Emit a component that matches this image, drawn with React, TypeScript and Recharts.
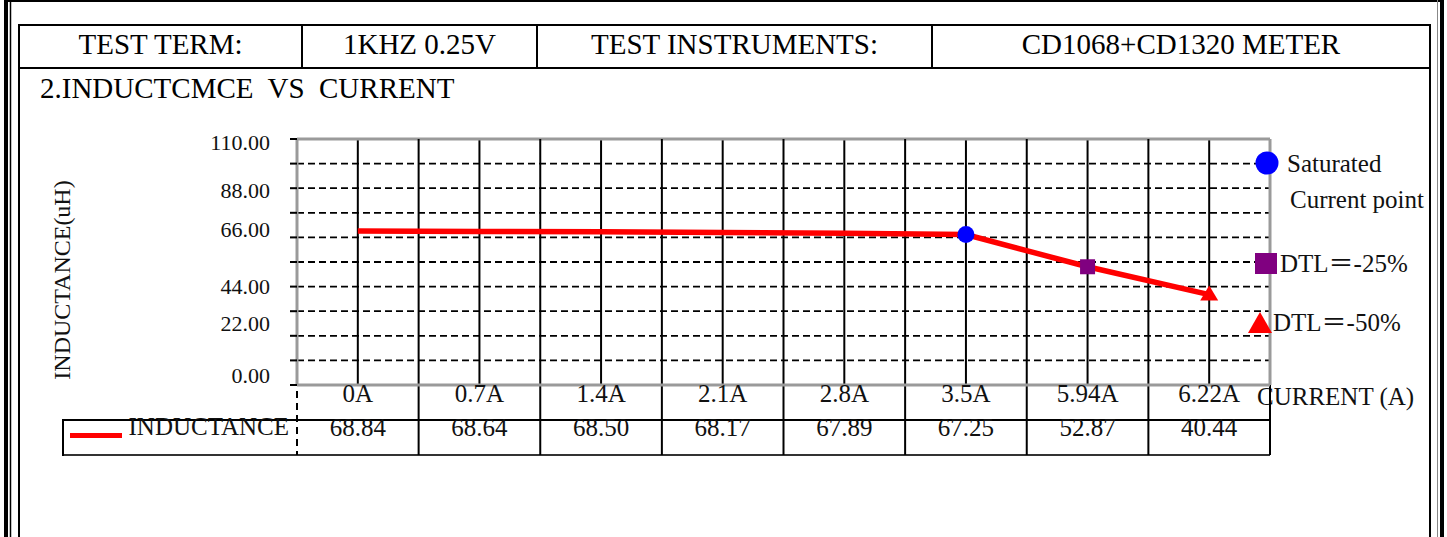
import { CartesianGrid, Line, LineChart, ReferenceLine, XAxis, YAxis } from "recharts"

const currents = ["0A", "0.7A", "1.4A", "2.1A", "2.8A", "3.5A", "5.94A", "6.22A"]
const inductance = [68.84, 68.64, 68.5, 68.17, 67.89, 67.25, 52.87, 40.44]
const markers = ["", "", "", "", "", "circle", "square", "triangle"]
const yTicks = [0, 11, 22, 33, 44, 55, 66, 77, 88, 99, 110]
const headerCells = ["TEST TERM:", "1KHZ 0.25V", "TEST INSTRUMENTS:", "CD1068+CD1320 METER"]

const data = currents.map((current, i) => ({ current, inductance: inductance[i] }))

const W = 1447
const H = 537
const FONT = '"Liberation Serif", "Noto Sans CJK TC", serif'
const INK = "#111"
const FRAME_GREY = "#9a9a9a"
const headerEdges = [19, 302, 537, 932, 1430]

// the scanned y labels sit a little off their gridlines
const labelNudge: Record<number, number> = { 0: -10, 22: -13, 44: -1, 66: -8, 88: 2, 110: 3 }

function InductanceTick(props: any) {
  const { x, y, payload } = props
  const v = payload.value as number
  if (v % 22 !== 0) return <g />
  return (
    <text x={x} y={y + (labelNudge[v] ?? 0)} dy={8} textAnchor="end" fontSize={22} fill={INK} fontFamily={FONT}>
      {v.toFixed(2)}
    </text>
  )
}

function CurrentTick(props: any) {
  const { x, y, payload } = props
  const value = inductance[payload.index]
  return (
    <g>
      <text x={x} y={y} dy={17} textAnchor="middle" fontSize={25} fill={INK} fontFamily={FONT}>
        {payload.value}
      </text>
      <text x={x} y={y} dy={51} textAnchor="middle" fontSize={25} fill={INK} fontFamily={FONT}>
        {value.toFixed(2)}
      </text>
    </g>
  )
}

function MarkerDot(props: any) {
  const { cx, cy, index } = props
  const kind = markers[index]
  if (kind === "circle") return <circle key={index} cx={cx} cy={cy} r={8.5} fill="#0000FF" />
  if (kind === "square") return <rect key={index} x={cx - 7.5} y={cy - 7.5} width={15} height={15} fill="#800080" />
  if (kind === "triangle")
    return <polygon key={index} points={`${cx},${cy - 9} ${cx + 9},${cy + 6} ${cx - 9},${cy + 6}`} fill="#FF0000" />
  return <g key={index} />
}

// column rules run from the plot top down through the data table
function columnRule(kind: "axis" | "inner" | "edge") {
  return (p: any) => {
    const top = Math.min(p.y1, p.y2)
    const bottom = Math.max(p.y1, p.y2)
    if (kind === "axis")
      return (
        <line x1={p.x1} x2={p.x1} y1={top} y2={bottom + 70} stroke="#000" strokeWidth={2} strokeDasharray="7 5" />
      )
    if (kind === "edge")
      return (
        <g>
          <line x1={p.x1} x2={p.x1} y1={top} y2={bottom} stroke={FRAME_GREY} strokeWidth={3} />
          <line x1={p.x1} x2={p.x1} y1={bottom} y2={bottom + 70} stroke="#000" strokeWidth={2} />
        </g>
      )
    return <line x1={p.x1} x2={p.x1} y1={top} y2={bottom + 70} stroke="#000" strokeWidth={2} />
  }
}

function Frame() {
  return (
    <svg width={W} height={H} style={{ position: "absolute", left: 0, top: 0 }} fontFamily={FONT}>
      <rect x={0} y={0} width={W} height={H} fill="#fff" />
      {/* page border */}
      <rect x={4} y={0} width={4} height={H} fill="#000" />
      <line x1={10.5} x2={10.5} y1={0} y2={H} stroke="#000" strokeWidth={1.5} />
      <line x1={8} x2={1444} y1={1} y2={1} stroke="#000" strokeWidth={2} />
      <line x1={1437.5} x2={1437.5} y1={0} y2={H} stroke="#888" strokeWidth={1} />
      <rect x={1440} y={0} width={4} height={H} fill="#000" />

      {/* report table */}
      <line x1={19} x2={19} y1={24} y2={H} stroke="#000" strokeWidth={2} />
      <line x1={1430} x2={1430} y1={24} y2={H} stroke="#000" strokeWidth={2} />
      <line x1={18} x2={1431} y1={25} y2={25} stroke="#000" strokeWidth={2} />
      <line x1={18} x2={1431} y1={68} y2={68} stroke="#000" strokeWidth={2} />
      {headerEdges.slice(1, -1).map((x) => (
        <line key={x} x1={x} x2={x} y1={25} y2={68} stroke="#000" strokeWidth={2} />
      ))}
      {headerCells.map((t, i) => (
        <text key={t} x={(headerEdges[i] + headerEdges[i + 1]) / 2} y={54} textAnchor="middle" fontSize={29} fill="#000">
          {t}
        </text>
      ))}
      <text x={40} y={98} fontSize={29} fill="#000" style={{ whiteSpace: "pre" }}>
        {"2.INDUCTCMCE  VS  CURRENT"}
      </text>

      {/* axis titles */}
      <text x={70} y={280} transform="rotate(-90 70 280)" textAnchor="middle" fontSize={24} fill={INK}>
        INDUCTANCE(uH)
      </text>
      <text x={1257} y={405} fontSize={25} fill={INK}>
        CURRENT (A)
      </text>

      {/* data table outline and key */}
      <line x1={63} x2={1270} y1={420} y2={420} stroke="#000" strokeWidth={2} />
      <line x1={63} x2={1270} y1={455} y2={455} stroke="#333" strokeWidth={2} />
      <line x1={63} x2={63} y1={419} y2={456} stroke="#000" strokeWidth={2} />
      <rect x={70} y={433} width={52} height={5} fill="#FF0000" />
      <text x={289} y={435} textAnchor="end" fontSize={25} fill={INK}>
        INDUCTANCE
      </text>

      {/* marker legend text */}
      <text x={1287} y={172} fontSize={25} fill={INK}>
        Saturated
      </text>
      <text x={1290} y={208} fontSize={25} fill={INK}>
        Current point
      </text>
      <text x={1280} y={272} fontSize={25} fill={INK}>
        DTL＝-25%
      </text>
      <text x={1273} y={331} fontSize={25} fill={INK}>
        DTL＝-50%
      </text>
    </svg>
  )
}

// legend symbols sit on top of the plot's right edge
function LegendSymbols() {
  return (
    <svg width={W} height={H} style={{ position: "absolute", left: 0, top: 0, pointerEvents: "none" }}>
      <circle cx={1267} cy={163} r={11.5} fill="#0000FF" />
      <rect x={1255} y={253} width={22} height={21} fill="#800080" />
      <polygon points="1260,312 1272,333 1248,333" fill="#FF0000" />
    </svg>
  )
}

export default function App() {
  const last = currents[currents.length - 1]
  return (
    <div style={{ position: "absolute", left: 0, top: 0, width: W, height: H, overflow: "hidden", background: "#fff" }}>
      <Frame />
      <div style={{ position: "absolute", left: 0, top: 0 }}>
        <LineChart width={W} height={H} data={data} margin={{ top: 139, right: 177, bottom: 82, left: 197 }}>
          <CartesianGrid vertical={false} stroke="#000" strokeWidth={1.8} strokeDasharray="7 4" />
          <CartesianGrid horizontal={false} stroke="#000" strokeWidth={2} />
          <XAxis
            dataKey="current"
            scale="band"
            interval={0}
            height={70}
            tickLine={false}
            tickSize={0}
            tickMargin={0}
            axisLine={{ stroke: FRAME_GREY, strokeWidth: 3 }}
            tick={<CurrentTick />}
          />
          <YAxis
            domain={[0, 110]}
            ticks={yTicks}
            interval={0}
            width={100}
            tickSize={7}
            tickMargin={20}
            tickLine={{ stroke: "#000", strokeWidth: 2 }}
            axisLine={{ stroke: FRAME_GREY, strokeWidth: 3 }}
            tick={<InductanceTick />}
          />
          <ReferenceLine y={110} stroke={FRAME_GREY} strokeWidth={3} />
          {currents.map((c, i) => (
            <ReferenceLine key={c} x={c} position="start" shape={columnRule(i === 0 ? "axis" : "inner")} />
          ))}
          <ReferenceLine x={last} position="end" shape={columnRule("edge")} />
          <Line
            type="linear"
            dataKey="inductance"
            stroke="#FF0000"
            strokeWidth={5.5}
            dot={MarkerDot}
            activeDot={false}
            isAnimationActive={false}
          />
        </LineChart>
      </div>
      <LegendSymbols />
    </div>
  )
}
